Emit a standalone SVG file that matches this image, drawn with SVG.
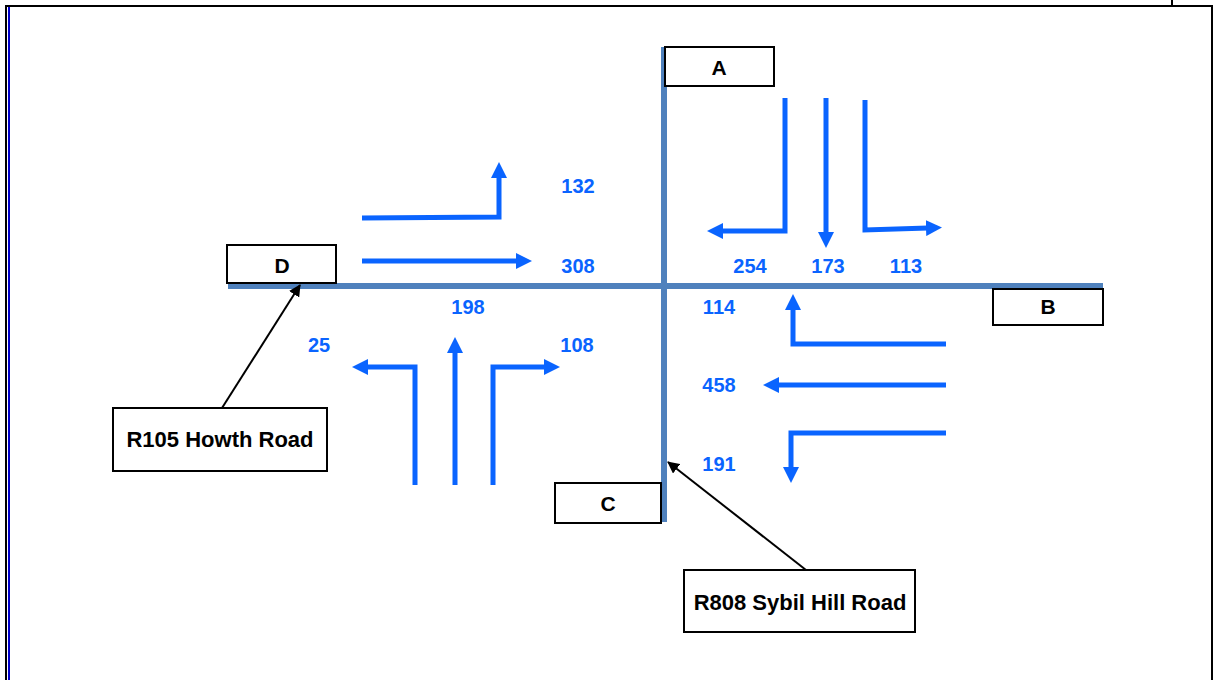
<svg xmlns="http://www.w3.org/2000/svg" width="1218" height="680" viewBox="0 0 1218 680">
  <style>
    .flow { fill: none; stroke: #0a64ff; stroke-width: 5; stroke-linejoin: miter; stroke-linecap: butt; }
    .road { stroke: #4f81bd; stroke-width: 6; fill: none; }
    .box { fill: #ffffff; stroke: #000000; stroke-width: 2; }
    .lbl { font-family: "Liberation Sans", Arial, sans-serif; font-weight: bold; font-size: 21px; fill: #000000; text-anchor: middle; }
    .name { font-family: "Liberation Sans", Arial, sans-serif; font-weight: bold; font-size: 22px; fill: #000000; text-anchor: middle; }
    .num { font-family: "Liberation Sans", Arial, sans-serif; font-weight: bold; font-size: 20px; fill: #0a64ff; text-anchor: middle; }
    .callout { stroke: #000000; stroke-width: 2; fill: none; }
  </style>
  <defs>
    <marker id="bh" markerUnits="userSpaceOnUse" markerWidth="16" markerHeight="16" refX="2" refY="8" orient="auto">
      <path d="M0,0 L16,8 L0,16 z" fill="#0a64ff"/>
    </marker>
    <marker id="kh" markerUnits="userSpaceOnUse" markerWidth="12" markerHeight="12" refX="11" refY="6" orient="auto">
      <path d="M0,0 L12,6 L0,12 z" fill="#000000"/>
    </marker>
  </defs>
  <rect width="1218" height="680" fill="#ffffff"/>
  <!-- page frame -->
  <g id="frame">
    <line x1="5" y1="6" x2="1213" y2="6" stroke="#000" stroke-width="2"/>
    <line x1="6" y1="5" x2="6" y2="680" stroke="#000" stroke-width="2"/>
    <line x1="9" y1="7" x2="9" y2="680" stroke="#0000cc" stroke-width="2"/>
    <line x1="1212" y1="5" x2="1212" y2="680" stroke="#000" stroke-width="2"/>
    <line x1="1172" y1="0" x2="1172" y2="5" stroke="#000" stroke-width="2"/>
  </g>
  <!-- roads -->
  <g id="roads">
    <line class="road" x1="664" y1="47" x2="664" y2="522"/>
    <line class="road" x1="228" y1="286" x2="1103" y2="286"/>
  </g>
  <g id="node-A">
    <rect class="box" x="665" y="47" width="109" height="39"/>
    <text class="lbl" x="719" y="75">A</text>
  </g>
  <g id="node-B">
    <rect class="box" x="993" y="289" width="110" height="36"/>
    <text class="lbl" x="1048" y="314">B</text>
  </g>
  <g id="node-C">
    <rect class="box" x="555" y="483" width="106" height="40"/>
    <text class="lbl" x="608" y="511">C</text>
  </g>
  <g id="node-D">
    <rect class="box" x="227" y="245" width="109" height="38"/>
    <text class="lbl" x="282" y="273">D</text>
  </g>
  <g id="node-R105">
    <rect class="box" x="113" y="408" width="214" height="63"/>
    <text class="name" x="220" y="447">R105 Howth Road</text>
  </g>
  <g id="node-R808">
    <rect class="box" x="684" y="570" width="231" height="62"/>
    <text class="name" x="800" y="610">R808 Sybil Hill Road</text>
  </g>
  <!-- connectors -->
  <g id="connectors">
    <line class="callout" x1="222" y1="408" x2="300" y2="285" marker-end="url(#kh)"/>
    <line class="callout" x1="806" y1="570" x2="668" y2="462" marker-end="url(#kh)"/>
    <!-- D approach -->
    <path class="flow" d="M362,218 L499,217 L499,176" marker-end="url(#bh)"/>
    <path class="flow" d="M362,261 L518,261" marker-end="url(#bh)"/>
    <!-- A approach -->
    <path class="flow" d="M785,98 L785,231 L721,231" marker-end="url(#bh)"/>
    <path class="flow" d="M826,98 L826,234" marker-end="url(#bh)"/>
    <path class="flow" d="M865,100 L865,230 L928,228" marker-end="url(#bh)"/>
    <!-- C approach -->
    <path class="flow" d="M415,485 L415,367 L366,367" marker-end="url(#bh)"/>
    <path class="flow" d="M455,485 L455,351" marker-end="url(#bh)"/>
    <path class="flow" d="M493,485 L493,367 L546,367" marker-end="url(#bh)"/>
    <!-- B approach -->
    <path class="flow" d="M946,344 L793,344 L793,308" marker-end="url(#bh)"/>
    <path class="flow" d="M946,385 L777,385" marker-end="url(#bh)"/>
    <path class="flow" d="M946,433 L791,433 L791,469" marker-end="url(#bh)"/>
  </g>
  <!-- counts -->
  <g id="counts">
    <text class="num" x="578" y="193">132</text>
    <text class="num" x="578" y="273">308</text>
    <text class="num" x="750" y="273">254</text>
    <text class="num" x="828" y="273">173</text>
    <text class="num" x="906" y="273">113</text>
    <text class="num" x="468" y="314">198</text>
    <text class="num" x="719" y="314">114</text>
    <text class="num" x="319" y="352">25</text>
    <text class="num" x="577" y="352">108</text>
    <text class="num" x="719" y="392">458</text>
    <text class="num" x="719" y="471">191</text>
  </g>
</svg>
